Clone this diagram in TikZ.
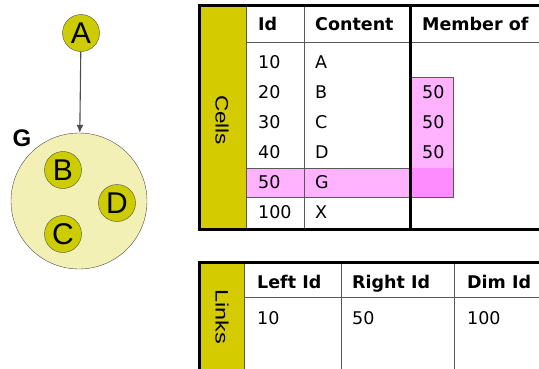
\documentclass[tikz,border=0pt]{standalone}
\usepackage{graphicx}
\usepackage{fontspec}
\setmainfont{DejaVu Sans}
\newfontfamily\arialfont{Liberation Sans}
\usetikzlibrary{arrows.meta}
\definecolor{cellyellow}{HTML}{CCCC00}
\definecolor{bandyellow}{HTML}{D4CC00}
\definecolor{paleyellow}{HTML}{F2F0B4}
\definecolor{lightpink}{HTML}{FFB3FF}
\definecolor{darkpink}{HTML}{FF8CFF}

\begin{document}
\begin{tikzpicture}[x=1pt,y=-1pt,
  cell/.style={circle,draw=black!70,fill=cellyellow,minimum size=37pt,inner sep=0pt,
    font=\arialfont\fontsize{30}{30}\selectfont},
  txt/.style={anchor=west,inner sep=0pt,text height=12.8pt,text depth=0pt,
    font=\fontsize{17.5}{18}\selectfont},
  head/.style={txt,font=\bfseries\fontsize{17.5}{18}\selectfont},
  band/.style={rotate=-90,inner sep=0pt,font=\arialfont\fontsize{18}{18}\selectfont},
  thinline/.style={black!65,line width=0.9pt},
  thickline/.style={black,line width=3pt}]
\useasboundingbox (0,0) rectangle (539,368);
% the group G and its members
\node[cell] (A) at (81,33) {A};
\node[circle,draw=black!70,fill=paleyellow,minimum size=136pt,inner sep=0pt] (G) at (79,201) {};
\node[font=\arialfont\bfseries\fontsize{24}{24}\selectfont] (Glabel) at (22,138) {G};
\node[cell] (B) at (63,170) {B};
\node[cell] (D) at (117,203) {D};
\node[cell] (C) at (63,234) {C};
\draw[black!70,line width=1.1pt,-{Latex[length=8pt,width=7pt]}] (A) -- (G);

% Cells table
\fill[bandyellow] (199,5) rectangle (246,229);
\fill[lightpink] (246,168) rectangle (410,197);
\fill[lightpink] (410,77) rectangle (453,168);
\fill[darkpink] (410,168) rectangle (453,197);
\draw[thinline] (246,168) rectangle (410,197);
\draw[thinline] (410,77) rectangle (453,197);
\draw[thinline] (246,42) -- (560,42);
\foreach \x in {246,304}
  \draw[thinline] (\x,5) -- (\x,229);
\draw[thickline] (410,5) -- (410,229);
\draw[thickline] (560,5) -- (199,5) -- (199,229) -- (560,229);
\node[band] (cells) at (222,120) {\scalebox{1.25}[1]{Cells}};
\node[head] (hid) at (258,24) {Id};
\node[head] (hcontent) at (315,24) {Content};
\node[head] (hmember) at (422,24) {Member of};
\foreach \id/\ct [count=\i] in {10/A,20/B,30/C,40/D,50/G,100/X} {
  \node[txt] (id\i) at (258,{32+30*\i}) {\id};
  \node[txt] (ct\i) at (315,{32+30*\i}) {\ct};
}
\foreach \i in {2,3,4}
  \node[txt] (mb\i) at (422,{32+30*\i}) {50};

% Links table
\fill[bandyellow] (199,262) rectangle (244,380);
\draw[thinline] (244,297) -- (560,297);
\foreach \x in {244,341,454}
  \draw[thinline] (\x,262) -- (\x,380);
\draw[thickline] (560,262) -- (199,262) -- (199,380);
\node[band] (links) at (222,317) {\scalebox{1.3}[1]{Links}};
\node[head] (hleft) at (257,282) {Left Id};
\node[head] (hright) at (352,282) {Right Id};
\node[head] (hdim) at (467,282) {Dim Id};
\node[txt] (left1) at (257,318) {10};
\node[txt] (right1) at (352,318) {50};
\node[txt] (dim1) at (467,318) {100};
\end{tikzpicture}
\end{document}
